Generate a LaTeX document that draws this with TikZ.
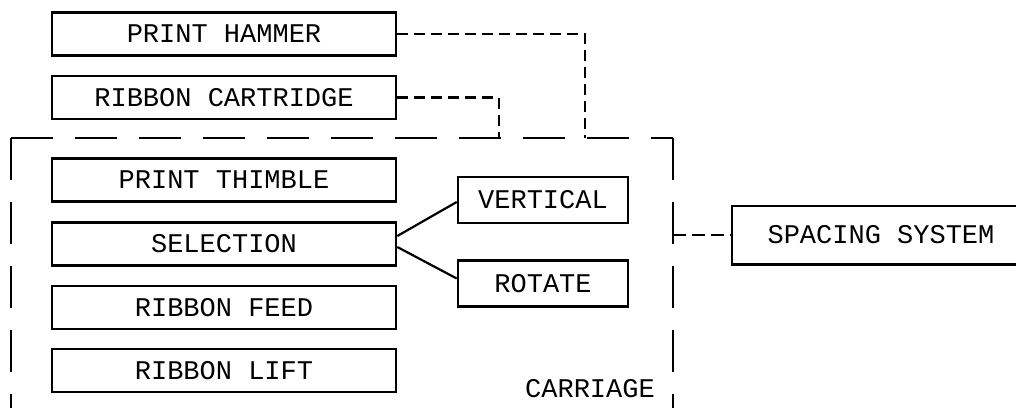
\documentclass[tikz,border=0pt]{standalone}
\usepackage{fontspec}
\newfontfamily\labelfont{Liberation Mono}
\begin{document}
\begin{tikzpicture}[x=1pt,y=-1pt,
  boxline/.style={line width=2.6pt},
  box/.style={draw, line width=2.6pt, inner sep=0pt, minimum width=344pt, minimum height=43pt,
              font=\labelfont\fontsize{27}{27}\selectfont},
  subbox/.style={box, minimum width=170pt, minimum height=46pt},
  conn/.style={line width=2.6pt, dash pattern=on 11pt off 6pt},
  carr/.style={line width=2.6pt, dash pattern=on 42pt off 22pt},
  lbl/.style={inner sep=0pt, font=\labelfont\fontsize{27}{27}\selectfont}]
\useasboundingbox (0,0) rectangle (1016,408);
% carriage outline (open at bottom)
\coordinate (cTL) at (11,138);
\coordinate (cTR) at (673,138);
\coordinate (cBL) at (11,408);
\coordinate (cBR) at (673,408);
\coordinate (edgeR) at (1016,0);
\draw[carr] (cTL) -- (cTR);
\draw[carr] (cTL) -- (cBL);
\draw[carr] (cTR) -- (cBR);
\node[lbl] (carlabel) at (590,389) {CARRIAGE};
% boxes
\node[box] (PH)  at (224,34)    {PRINT HAMMER};
\node[box] (RC)  at (224,97.5)  {RIBBON CARTRIDGE};
\node[box] (PT)  at (224,180)   {PRINT THIMBLE};
\node[box] (SEL) at (224,244)   {SELECTION};
\node[box] (RF)  at (224,307.5) {RIBBON FEED};
\node[box] (RL)  at (224,370.5) {RIBBON LIFT};
\node[subbox] (VERT) at (543,200)   {VERTICAL};
\node[subbox] (ROT)  at (543,283.5) {ROTATE};
\node[lbl, minimum width=298pt, minimum height=58pt] (SS) at (881,235) {SPACING SYSTEM};
\draw[boxline] (SS.north -| edgeR) -- (SS.north west) -- (SS.south west) -- (SS.south -| edgeR);
% connectors
\coordinate (dPH) at (585,138);
\coordinate (dRC) at (499,138);
\draw[conn] (PH.east) -| (dPH);
\draw[conn] (RC.east) -| (dRC);
\draw[line width=2.2pt] ([yshift=8pt]SEL.east) -- ([yshift=-2pt]VERT.west);
\draw[line width=2.2pt] ([yshift=-3pt]SEL.east) -- ([yshift=5pt]ROT.west);
\draw[conn, dash pattern=on 13pt off 6pt] (SS.west -| cTR) -- (SS.west);
\end{tikzpicture}
\end{document}
